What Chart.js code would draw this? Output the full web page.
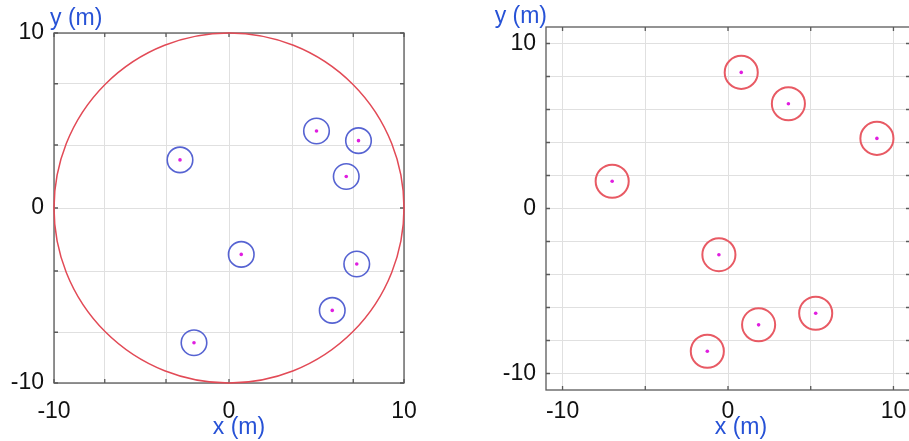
<!DOCTYPE html>
<html>
<head>
<meta charset="utf-8">
<script src="https://cdn.jsdelivr.net/npm/chart.js@4"></script>
<style>
  html, body { margin: 0; padding: 0; background: #fff; overflow: hidden; width: 909px; height: 441px; }
  #leftChart { position: absolute; left: 0; top: 0; }
  #rightChart { position: absolute; left: 459px; top: 0; }
</style>
</head>
<body>
<canvas id="leftChart" width="459" height="441"></canvas>
<canvas id="rightChart" width="460" height="441"></canvas>
<script>
// left panel: receivers inside the 10 m boundary
const leftX = [5.0, 7.4, -2.8, 6.7, 0.7, 7.3, 5.9, -2.0];
const leftY = [4.4, 3.85, 2.75, 1.8, -2.65, -3.2, -5.85, -7.7];
const leftRingR = 0.73;
const boundaryR = 10;
const leftTicks = [-10, -7.1, -3.6, 0, 3.6, 7.1, 10];

// right panel: sources
const rightX = [0.8, 3.65, 9.0, -7.0, -0.55, 5.3, 1.85, -1.25];
const rightY = [8.25, 6.35, 4.25, 1.65, -2.8, -6.35, -7.05, -8.65];
const rightRingR = 1.0;
const rightXTicks = [-10, -5, 0, 5, 10];
const rightYTicks = [-10, -8, -6, -4, -2, 0, 2, 4, 6, 8, 10];

const labelledTicks = [-10, 0, 10];
const FONT = "'Liberation Sans', Arial, sans-serif";
const BLUE_TEXT = '#2752d6';

const toPoints = (xs, ys) => xs.map((x, i) => ({ x: x, y: ys[i] }));
const radiusOf = r => c => {
  const s = c.chart.scales.x;
  return Math.abs(s.getPixelForValue(r) - s.getPixelForValue(0));
};

const framePlugin = {
  id: 'frame',
  beforeDatasetsDraw(chart, args, o) {
    const { ctx, chartArea: a, scales } = chart;
    ctx.save();
    ctx.strokeStyle = '#5a5a5a';
    ctx.lineWidth = 1.3;
    ctx.beginPath();
    scales.x.ticks.forEach(t => {
      const px = scales.x.getPixelForValue(t.value);
      ctx.moveTo(px, a.bottom); ctx.lineTo(px, a.bottom - 4);
      ctx.moveTo(px, a.top); ctx.lineTo(px, a.top + 4);
    });
    scales.y.ticks.forEach(t => {
      const py = scales.y.getPixelForValue(t.value);
      ctx.moveTo(a.left, py); ctx.lineTo(a.left + 4, py);
      ctx.moveTo(a.right, py); ctx.lineTo(a.right - 4, py);
    });
    ctx.stroke();
    ctx.strokeRect(a.left, a.top, a.right - a.left, a.bottom - a.top);
    ctx.restore();
  },
  afterDraw(chart, args, o) {
    const { ctx, chartArea: a, scales } = chart;
    ctx.save();
    ctx.fillStyle = BLUE_TEXT;
    ctx.font = '23px ' + FONT;
    ctx.textBaseline = 'alphabetic';
    ctx.textAlign = 'center';
    ctx.fillText('x (m)', scales.x.getPixelForValue(0) + o.xTitleDx, o.xTitleY);
    ctx.textAlign = o.yTitleAlign;
    ctx.fillText('y (m)', a.left + o.yTitleDx, o.yTitleY);
    ctx.restore();
  }
};

function axis(min, max, tickList, size, pad, horizontal) {
  return {
    type: 'linear',
    min: min,
    max: max,
    afterBuildTicks: s => { s.ticks = tickList.map(v => ({ value: v })); },
    afterFit: s => { if (horizontal) s.height = size; else s.width = size; },
    grid: { color: '#e0e0e0', lineWidth: 1, drawTicks: false },
    border: { display: false },
    ticks: {
      autoSkip: false,
      maxRotation: 0,
      padding: pad,
      color: '#111',
      font: { family: FONT, size: 23 },
      callback: v => labelledTicks.includes(v) ? String(v) : ''
    }
  };
}

function makeChart(id, cfg) {
  const pts = toPoints(cfg.xs, cfg.ys);
  const datasets = [];
  if (cfg.boundary) {
    datasets.push({
      data: [{ x: 0, y: 0 }],
      pointRadius: radiusOf(cfg.boundary),
      pointHoverRadius: radiusOf(cfg.boundary),
      pointBorderColor: '#e24a56',
      pointBackgroundColor: 'rgba(0,0,0,0)',
      pointBorderWidth: 1.5,
      clip: false
    });
  }
  datasets.push({
    data: pts,
    pointRadius: radiusOf(cfg.ringR),
    pointHoverRadius: radiusOf(cfg.ringR),
    pointBorderColor: cfg.ringColor,
    pointBackgroundColor: 'rgba(0,0,0,0)',
    pointBorderWidth: cfg.ringWidth,
    clip: false
  });
  datasets.push({
    data: pts,
    pointRadius: 1.8,
    pointHoverRadius: 1.8,
    pointBorderWidth: 0,
    pointBackgroundColor: '#e01ee0',
    clip: false
  });

  return new Chart(document.getElementById(id), {
    type: 'scatter',
    data: { datasets: datasets },
    options: {
      responsive: false,
      animation: false,
      events: [],
      layout: { padding: cfg.padding },
      plugins: {
        legend: { display: false },
        tooltip: { enabled: false },
        frame: cfg.titles
      },
      scales: {
        x: axis(cfg.xMin, cfg.xMax, cfg.xTicks, cfg.xAxisHeight, cfg.xPad, true),
        y: axis(cfg.yMin, cfg.yMax, cfg.yTicks, cfg.yAxisWidth, 10, false)
      }
    },
    plugins: [framePlugin]
  });
}

makeChart('leftChart', {
  xs: leftX, ys: leftY, ringR: leftRingR, boundary: boundaryR,
  ringColor: '#5663d2', ringWidth: 1.6,
  xMin: -10, xMax: 10, yMin: -10, yMax: 10,
  xTicks: leftTicks, yTicks: leftTicks,
  padding: { left: 0, top: 33, right: 55, bottom: 0 },
  yAxisWidth: 54, xAxisHeight: 58, xPad: 15,
  titles: { xTitleDx: 10, xTitleY: 434, yTitleAlign: 'left', yTitleDx: -4, yTitleY: 25 }
});

makeChart('rightChart', {
  xs: rightX, ys: rightY, ringR: rightRingR,
  ringColor: '#e85a64', ringWidth: 2,
  xMin: -11, xMax: 11, yMin: -11, yMax: 11,
  xTicks: rightXTicks, yTicks: rightYTicks,
  padding: { left: 0, top: 27, right: 9, bottom: 0 },
  yAxisWidth: 87, xAxisHeight: 51, xPad: 8,
  titles: { xTitleDx: 13, xTitleY: 434, yTitleAlign: 'right', yTitleDx: 1, yTitleY: 23 }
});
</script>
</body>
</html>
